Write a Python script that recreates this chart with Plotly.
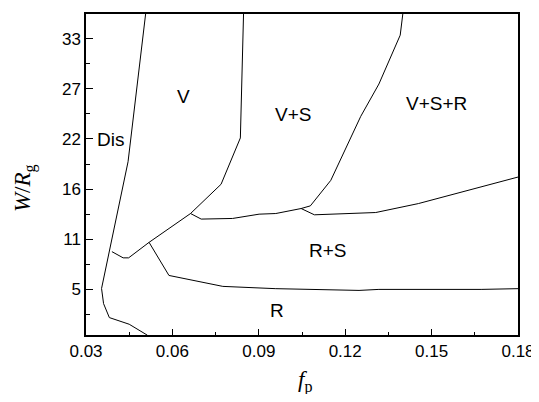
import plotly.graph_objects as go

# Phase boundaries (f_p, W/R_g)
dis_fp = [0.0507, 0.0446, 0.0354, 0.0361, 0.0381, 0.0450, 0.0513]
dis_w = [35.7, 19.5, 5.6, 3.94, 2.41, 1.68, 0.48]

v_fp = [0.0390, 0.0429, 0.0448, 0.0519, 0.0663, 0.0769, 0.0836, 0.0847]
v_w = [9.64, 8.96, 8.96, 10.66, 13.82, 17.03, 22.11, 35.7]

vs_low_fp = [0.0663, 0.0700, 0.0809, 0.0901, 0.0959, 0.1047]
vs_low_w = [13.82, 13.21, 13.28, 13.75, 13.82, 14.37]

vs_fp = [0.1047, 0.1079, 0.1150, 0.1254, 0.1317, 0.1391, 0.1400]
vs_w = [14.37, 14.66, 17.46, 24.48, 28.02, 33.38, 35.7]

rs_up_fp = [0.1047, 0.1093, 0.1306, 0.1454, 0.18]
rs_up_w = [14.37, 13.68, 13.93, 14.91, 17.82]

r_fp = [0.0519, 0.0588, 0.0775, 0.0959, 0.1248, 0.1317, 0.1672, 0.18]
r_w = [10.66, 7.03, 5.83, 5.58, 5.39, 5.5, 5.5, 5.58]

region_names = ["Dis", "V", "V+S", "V+S+R", "R+S", "R"]
region_fp = [0.0384, 0.0639, 0.1020, 0.1516, 0.1140, 0.0962]
region_w = [21.93, 26.66, 24.66, 25.86, 9.75, 3.18]

x_ticks = [0.03, 0.06, 0.09, 0.12, 0.15, 0.18]
y_ticks = [5.5, 11, 16.5, 22, 27.5, 33]
y_tick_text = ["5", "11", "16", "22", "27", "33"]

fig = go.Figure()
for xs, ys in [(dis_fp, dis_w), (v_fp, v_w), (vs_low_fp, vs_low_w),
               (vs_fp, vs_w), (rs_up_fp, rs_up_w), (r_fp, r_w)]:
    fig.add_trace(go.Scatter(x=xs, y=ys, mode="lines",
                             line=dict(color="black", width=1),
                             showlegend=False, hoverinfo="skip"))

for name, xv, yv in zip(region_names, region_fp, region_w):
    fig.add_annotation(x=xv, y=yv, text=name, showarrow=False,
                       font=dict(family="Liberation Sans, Arial", size=19, color="black"))

serif = dict(family="Liberation Serif, Times New Roman", size=23, color="black")
fig.add_annotation(xref="paper", yref="paper", x=-0.141, y=0.458,
                   text="<i>W</i>/<i>R</i><sub>g</sub>", textangle=-90,
                   showarrow=False, xanchor="center", yanchor="middle", font=serif)
fig.add_annotation(xref="paper", yref="paper", x=0.507, y=-0.1455,
                   text="<i>f</i><sub>p</sub>",
                   showarrow=False, xanchor="center", yanchor="middle", font=serif)

tickfont = dict(family="Liberation Sans, Arial", size=17, color="black")
fig.update_xaxes(range=[0.03, 0.18], tickvals=x_ticks, tickformat=".2f",
                 ticks="inside", ticklen=6, tickwidth=1.3, tickcolor="black",
                 showline=True, linecolor="black", linewidth=1.5, mirror=True,
                 showgrid=False, zeroline=False, tickfont=tickfont,
                 minor=dict(tickvals=[0.045, 0.075, 0.105, 0.135, 0.165],
                            ticks="inside", ticklen=3.5, tickcolor="black", tickwidth=1.3))
fig.update_yaxes(range=[0.5, 35.7], tickvals=y_ticks, ticktext=y_tick_text,
                 ticks="inside", ticklen=7, tickwidth=1.3, tickcolor="black",
                 showline=True, linecolor="black", linewidth=1.5, mirror=True,
                 showgrid=False, zeroline=False, tickfont=tickfont,
                 minor=dict(tickvals=[2.75, 8.25, 13.75, 19.25, 24.75, 30.25],
                            ticks="inside", ticklen=4.5, tickcolor="black", tickwidth=1.3))
fig.update_layout(width=531, height=386, margin=dict(l=78, r=19, t=4, b=59),
                  plot_bgcolor="white", paper_bgcolor="white")
fig.write_html("out.html", config={"displayModeBar": False})
